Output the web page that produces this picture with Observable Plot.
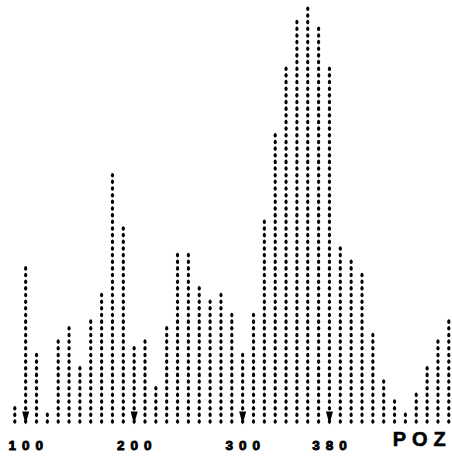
<!DOCTYPE html>
<html><head><meta charset="utf-8">
<script src="https://cdn.jsdelivr.net/npm/d3@7"></script>
<script src="https://cdn.jsdelivr.net/npm/@observablehq/plot@0.6"></script>
<style>body{margin:0;background:#fff}#chart svg{display:block}</style>
</head><body><div id="chart"></div>
<script>
// Position bins (POZ) and dot counts per column
const poz = [90,100,110,120,130,140,150,160,170,180,190,200,210,220,230,240,250,260,270,280,290,300,310,320,330,340,350,360,370,380,390,400,410,420,430,440,450,460,470,480,490];
const counts = [3,24,11,2,13,15,9,16,20,38,30,12,13,6,15,26,26,21,19,20,17,11,17,31,44,54,61,63,60,54,27,25,23,14,7,4,2,5,9,13,16];
// Marked positions (arrows) and their tick labels
const tickPoz = [100,200,300,380];
const tickLabels = ["100","200","300","380"];
const axisTitle = "POZ";

const dots = counts.flatMap((c, i) => d3.range(c).map(k => ({poz: poz[i], k})));
const ticks = tickPoz.map((p, i) => ({poz: p, label: tickLabels[i]}));

const ellipse = {draw(ctx) {
  const rx = 1.6, ry = 2.3, m = 0.5523;
  ctx.moveTo(rx, 0);
  ctx.bezierCurveTo(rx, ry*m, rx*m, ry, 0, ry);
  ctx.bezierCurveTo(-rx*m, ry, -rx, ry*m, -rx, 0);
  ctx.bezierCurveTo(-rx, -ry*m, -rx*m, -ry, 0, -ry);
  ctx.bezierCurveTo(rx*m, -ry, rx, -ry*m, rx, 0);
  ctx.closePath();
}};
const arrow = {draw(ctx) {
  ctx.moveTo(-3.5, -7); ctx.lineTo(3.5, -7); ctx.lineTo(0, 6); ctx.closePath();
}};

const LS = 6, LS2 = 6;
const chart = Plot.plot({
  width: 452, height: 467,
  marginLeft: 14.3, marginRight: 3.7, marginTop: 8.3, marginBottom: 46,
  x: {domain: [90, 490], axis: null},
  y: {domain: [0, 62], axis: null},
  style: {background: "#fff"},
  marks: [
    Plot.dot(dots, {x: "poz", y: "k", symbol: ellipse, fill: "#000", stroke: "none"}),
    Plot.dot(ticks, {x: "poz", y: () => 0, dy: -3, symbol: arrow, fill: "#000", stroke: "none"}),
    Plot.text(ticks, {x: "poz", text: "label", frameAnchor: "bottom", dy: 28, dx: LS/2,
      fontSize: 13.5, fontWeight: "bold", fontFamily: "Liberation Sans", fill: "#000",
      stroke: "#000", strokeWidth: 0.9}),
    Plot.text([axisTitle], {frameAnchor: "bottom-right", textAnchor: "end", dy: 24.5, dx: 3,
      fontSize: 20, fontWeight: "bold", fontFamily: "Liberation Sans", fill: "#000",
      stroke: "#000", strokeWidth: 0.6})
  ]
});
d3.select(chart).selectAll("text").each(function() {
  const t = d3.select(this);
  t.style("letter-spacing", t.text() === axisTitle ? LS2 + "px" : LS + "px");
});
document.getElementById("chart").appendChild(chart);
</script>
</body></html>
